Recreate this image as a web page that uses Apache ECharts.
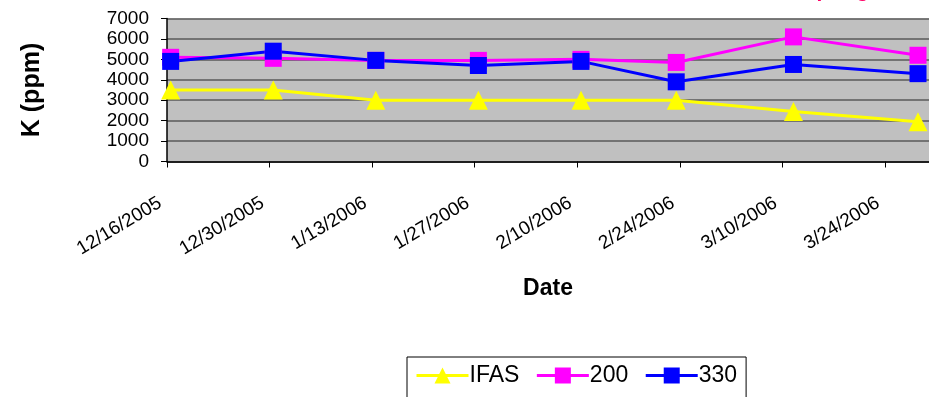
<!DOCTYPE html>
<html>
<head>
<meta charset="utf-8">
<script src="https://cdn.jsdelivr.net/npm/echarts@6/dist/echarts.min.js"></script>
<style>
html,body{margin:0;padding:0;background:#fff;}
#chart{width:929px;height:397px;}
</style>
</head>
<body>
<div id="chart"></div>
<script>
// ---- data ----
var sampleDates = ['2005-12-16','2005-12-30','2006-01-13','2006-01-27','2006-02-10','2006-02-23','2006-03-11','2006-03-28'];
var ifasValues = [3500, 3500, 3000, 3000, 3000, 3000, 2450, 1950];
var ppm200Values = [5100, 5050, 4950, 4950, 5000, 4850, 6100, 5200];
var ppm330Values = [4900, 5400, 4950, 4700, 4900, 3900, 4750, 4300];
var seriesNames = ['IFAS', '200', '330'];
var axisStartDate = '2005-12-16';
var tickDays = 14;
var yTicks = [0, 1000, 2000, 3000, 4000, 5000, 6000, 7000];

var DAY = 86400000;
var base = Date.parse(axisStartDate + 'T00:00:00Z');
function dayOffset(s){ return (Date.parse(s + 'T00:00:00Z') - base) / DAY + 0.5; }
function fmtDay(v){
  var d = new Date(base + v * DAY);
  return (d.getUTCMonth() + 1) + '/' + d.getUTCDate() + '/' + d.getUTCFullYear();
}
function pairs(vals){ return sampleDates.map(function(s, i){ return [dayOffset(s), vals[i]]; }); }

var FONT = '"Liberation Sans", Arial, sans-serif';
var chart = echarts.init(document.getElementById('chart'), null, {renderer: 'canvas'});
chart.setOption({
  animation: false,
  backgroundColor: '#ffffff',
  grid: {left: 167, top: 18.5, width: 762, height: 143, show: true, backgroundColor: '#C0C0C0', borderWidth: 0},
  graphic: [{
    type: 'text', right: 60, top: -19,
    style: {text: 'Spring', font: 'bold 21px ' + FONT, fill: '#FF0066'}
  }],
  legend: {
    data: seriesNames, left: 407, top: 357, orient: 'horizontal',
    borderColor: '#000', borderWidth: 1, padding: [7, 9, 12, 8],
    itemWidth: 52, itemHeight: 20, itemGap: 16,
    lineStyle: {width: 3},
    textStyle: {fontFamily: FONT, fontSize: 23, color: '#000', padding: [0, 0, 0, -4]}
  },
  xAxis: {
    type: 'value', min: 0, max: 104, interval: tickDays,
    name: 'Date', nameLocation: 'middle', nameGap: 116,
    nameTextStyle: {fontFamily: FONT, fontSize: 23, fontWeight: 'bold', color: '#000'},
    axisLine: {show: true, lineStyle: {color: '#000', width: 1.5}},
    axisTick: {show: true, inside: false, length: 6, lineStyle: {color: '#000'}},
    axisLabel: {rotate: 31, margin: 36, padding: [0, 8, 0, 0], fontFamily: FONT, fontSize: 19, color: '#000',
      showMaxLabel: false,
      formatter: function(v){ return (v % tickDays === 0) ? fmtDay(v) : ''; }},
    splitLine: {show: false}
  },
  yAxis: {
    type: 'value', min: yTicks[0], max: yTicks[yTicks.length - 1], interval: 1000,
    name: 'K (ppm)', nameLocation: 'middle', nameGap: 122, nameRotate: 90,
    nameTextStyle: {fontFamily: FONT, fontSize: 25, fontWeight: 'bold', color: '#000'},
    axisLine: {show: true, lineStyle: {color: '#000', width: 1.5}},
    axisTick: {show: true, inside: false, length: 6, lineStyle: {color: '#000'}},
    axisLabel: {margin: 18, fontFamily: FONT, fontSize: 19, color: '#000',
      formatter: function(v){ return String(v); }},
    splitLine: {show: true, lineStyle: {color: '#5a5a5a', width: 1.5}}
  },
  series: [
    {name: seriesNames[0], type: 'line', data: pairs(ifasValues), symbol: 'triangle', symbolSize: [19, 19],
     lineStyle: {color: '#FFFF00', width: 3}, itemStyle: {color: '#FFFF00'}},
    {name: seriesNames[1], type: 'line', data: pairs(ppm200Values), symbol: 'rect', symbolSize: 17,
     lineStyle: {color: '#FF00FF', width: 3}, itemStyle: {color: '#FF00FF'}},
    {name: seriesNames[2], type: 'line', data: pairs(ppm330Values), symbol: 'rect', symbolSize: 17,
     lineStyle: {color: '#0000FF', width: 3}, itemStyle: {color: '#0000FF'}}
  ]
});
</script>
</body>
</html>
